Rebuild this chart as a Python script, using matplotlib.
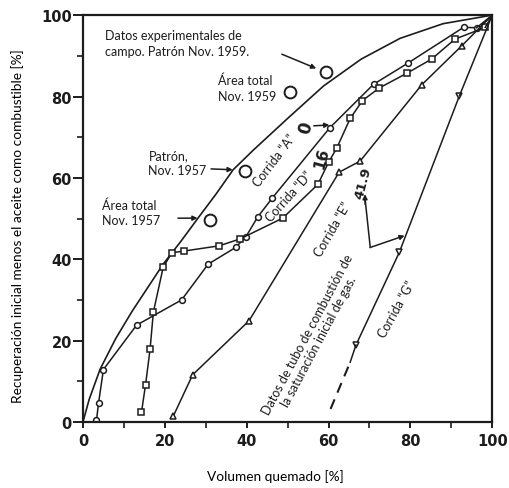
import numpy as np
import matplotlib
matplotlib.use("Agg")
import matplotlib.pyplot as plt

# curva superior (patron de campo)
curva_x = [0, 1.5, 4.2, 8, 12, 16, 19.6, 24, 28.1, 32.5, 36.7, 41.6, 50, 58.8, 68, 77.5, 88, 100]
curva_y = [0, 5.5, 13, 20.5, 27.2, 33.3, 38.8, 44.5, 50.1, 56, 62, 66.8, 74.6, 82.6, 89.2, 94.3, 97.9, 100]

# Corrida "A" (circulos)
a_x = [3.3, 3.8, 5.0, 13.1, 24.1, 30.6, 37.3, 39.8, 42.7, 46.3, 60.3, 71.0, 79.4, 93.0, 96.2, 100]
a_y = [0.4, 4.6, 12.9, 23.8, 30.0, 38.8, 42.9, 45.5, 50.4, 55.1, 72.3, 83.0, 88.2, 97.0, 96.9, 100]

# Corrida "D" (cuadros)
d_x = [14.3, 15.3, 16.4, 17.2, 19.6, 21.7, 24.6, 33.3, 38.4, 48.8, 57.4, 60.0, 62.0, 65.3, 68.3, 72.4, 79.3, 85.2, 90.9, 98.3, 100]
d_y = [2.4, 9.2, 17.9, 27.0, 38.0, 41.6, 42.0, 43.3, 45.0, 50.1, 58.4, 63.8, 67.3, 74.6, 79.0, 82.1, 85.8, 89.2, 94.1, 97.0, 100]

# Corrida "E" (triangulos)
e_x = [22.1, 26.8, 40.6, 62.6, 67.7, 82.8, 92.6, 100]
e_y = [1.5, 11.6, 24.9, 61.4, 64.1, 82.9, 92.5, 100]

# Corrida "G" (triangulos invertidos)
g_x = [66.7, 77.3, 92.0, 100]
g_y = [18.9, 41.7, 80.2, 100]
g_sol_x = [65.3, 66.7]
g_sol_y = [14.7, 18.9]
g_tubo_x = [60.5, 65.3]
g_tubo_y = [3.2, 14.7]

# datos de campo (circulos grandes)
campo_x = [31.0, 39.6, 50.6, 59.4]
campo_y = [49.7, 61.7, 81.0, 86.1]

# linea de 41.9
sat_x = [68.9, 70.2]
sat_y = [55.2, 42.9]

negro = "#1c1c1c"
fuente = ["Lato", "DejaVu Sans"]

fig = plt.figure(figsize=(5.09, 4.89), dpi=100)
ax = fig.add_axes([0.163, 0.135, 0.804, 0.832])

ax.plot(curva_x, curva_y, color=negro, lw=1.2)
mk = dict(color=negro, lw=1.1, markersize=4.2, markerfacecolor="white", markeredgewidth=1.1)
ax.plot(a_x[:-1], a_y[:-1], marker="o", **mk)
ax.plot(a_x[-2:], a_y[-2:], color=negro, lw=1.1)
ax.plot(d_x[:-1], d_y[:-1], marker="s", **mk)
ax.plot(d_x[-2:], d_y[-2:], color=negro, lw=1.1)
ax.plot(e_x[:-1], e_y[:-1], marker="^", **mk)
ax.plot(e_x[-2:], e_y[-2:], color=negro, lw=1.1)
ax.plot(g_x[:-1], g_y[:-1], marker="v", **mk)
ax.plot(g_x[-2:], g_y[-2:], color=negro, lw=1.1)
ax.plot(g_sol_x, g_sol_y, color=negro, lw=1.1)
ax.plot(g_tubo_x, g_tubo_y, color=negro, lw=1.5, dashes=(5, 3.5))

ax.plot(campo_x, campo_y, "o", color=negro, markersize=8.5, markerfacecolor="white",
        markeredgewidth=1.4, linestyle="none")

flecha = dict(arrowstyle="-|>", color=negro, lw=1.1, mutation_scale=7, shrinkA=0, shrinkB=0)
ax.annotate("", xy=(36.6, 62.0), xytext=(31.3, 62.2), arrowprops=flecha)
ax.annotate("", xy=(28.0, 50.1), xytext=(23.2, 50.1), arrowprops=flecha)
ax.annotate("", xy=(57.0, 86.9), xytext=(48.6, 90.4), arrowprops=flecha)
ax.annotate("", xy=(60.2, 73.0), xytext=(56.4, 72.8), arrowprops=flecha)
ax.plot(sat_x, sat_y, color=negro, lw=1.1)
ax.annotate("", xy=(78.6, 45.8), xytext=(70.2, 42.9), arrowprops=flecha)
ax.annotate("", xy=(68.9, 56.0), xytext=(68.95, 53.5), arrowprops=flecha)

# textos
tam = 9
ax.text(5.4, 93.2, "Datos experimentales de\ncampo. Patrón Nov. 1959.", family=fuente,
        fontsize=tam, ha="left", va="center", color=negro, linespacing=1.35)
ax.text(33.0, 82.2, "Área total\nNov. 1959", family=fuente, fontsize=tam,
        ha="left", va="center", color=negro, linespacing=1.35)
ax.text(16.0, 63.8, "Patrón,\nNov. 1957", family=fuente, fontsize=tam,
        ha="left", va="center", color=negro, linespacing=1.35)
ax.text(4.6, 51.6, "Área total\nNov. 1957", family=fuente, fontsize=tam,
        ha="left", va="center", color=negro, linespacing=1.35)

ax.text(46.7, 64.4, "Corrida “A”", family=fuente, fontsize=tam, rotation=53,
        ha="center", va="center", color=negro, rotation_mode="anchor")
ax.text(50.4, 55.5, "Corrida “D”", family=fuente, fontsize=tam, rotation=48,
        ha="center", va="center", color=negro, rotation_mode="anchor")
ax.text(61.0, 47.4, "Corrida “E”", family=fuente, fontsize=tam, rotation=60,
        ha="center", va="center", color=negro, rotation_mode="anchor")
ax.text(76.7, 27.8, "Corrida “G”", family=fuente, fontsize=tam, rotation=61,
        ha="center", va="center", color=negro, rotation_mode="anchor")
ax.text(56.3, 20.8, "Datos de tubo de combustión de\nla saturación inicial de gas.",
        family=fuente, fontsize=tam, rotation=62, ha="center", va="center",
        color=negro, rotation_mode="anchor", linespacing=1.15)

ax.text(54.4, 72.4, "0", fontsize=12, fontweight="bold", rotation=75,
        ha="center", va="center", color=negro)
ax.text(58.3, 65.0, "16", fontsize=11, fontweight="bold", rotation=75,
        ha="center", va="center", color=negro)
ax.text(68.4, 59.0, "41.9", fontsize=9.5, fontweight="bold", rotation=75,
        ha="center", va="center", color=negro)

ax.set_xlim(0, 100)
ax.set_ylim(0, 100)
ax.set_xticks(range(0, 101, 20))
ax.set_yticks(range(0, 101, 20))
ax.set_xticks(range(10, 100, 20), minor=True)
ax.set_yticks(range(10, 100, 20), minor=True)
for lab in ax.get_xticklabels() + ax.get_yticklabels():
    lab.set_fontweight("bold")
    lab.set_fontsize(10.5)
ax.tick_params(axis="y", which="major", length=7, width=1.4, pad=1, colors=negro)
ax.tick_params(axis="y", which="minor", length=4, width=1.2, colors=negro)
ax.tick_params(axis="x", which="major", length=4, width=1.4, pad=4, colors=negro)
ax.tick_params(axis="x", which="minor", length=4, width=1.2, colors=negro)
for s in ax.spines.values():
    s.set_linewidth(1.6)
    s.set_color(negro)

ax.set_xlabel("Volumen quemado [%]", family=fuente, fontsize=9.8)
ax.set_ylabel("Recuperación inicial menos el aceite como combustible [%]", family=fuente, fontsize=9.8)
ax.xaxis.set_label_coords(0.47, -0.115)
ax.yaxis.set_label_coords(-0.145, 0.485)

fig.savefig("out.png", dpi=100)
